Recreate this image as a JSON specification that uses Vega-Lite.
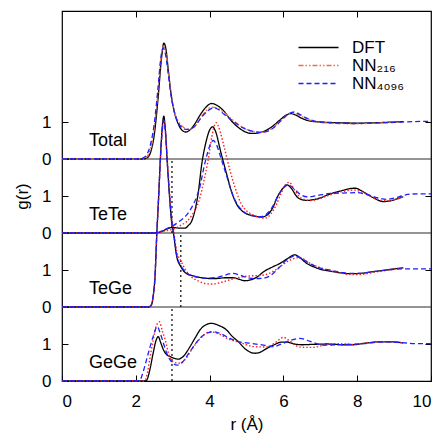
{
"$schema":"https://vega.github.io/schema/vega-lite/v6.json",
"width":369,"height":370,
"autosize":{"type":"none"},
"padding":{"left":62,"top":11,"right":14,"bottom":55},
"config":{"view":{"stroke":"#000","strokeWidth":1.2},"font":"Liberation Sans",
"axis":{"grid":false,"domain":false,"tickColor":"#000","labelColor":"#000","titleColor":"#000","labelFontSize":17,"titleFontSize":17,"titleFontWeight":"normal","labelFont":"Liberation Sans","titleFont":"Liberation Sans","tickSize":-6,"tickWidth":1},
"legend":{"labelFontSize":17,"labelFont":"Liberation Sans","labelColor":"#000"}},
"datasets":{"c":[
{"p":"Total","s":"DFT","r":0,"y":6},{"p":"Total","s":"DFT","r":2.2,"y":6},{"p":"Total","s":"DFT","r":2.3,"y":6.03},{"p":"Total","s":"DFT","r":2.4,"y":6.18},{"p":"Total","s":"DFT","r":2.5,"y":6.65},{"p":"Total","s":"DFT","r":2.6,"y":7.6},{"p":"Total","s":"DFT","r":2.7,"y":8.75},{"p":"Total","s":"DFT","r":2.76,"y":9.13},{"p":"Total","s":"DFT","r":2.82,"y":8.95},{"p":"Total","s":"DFT","r":2.88,"y":8.41},{"p":"Total","s":"DFT","r":2.95,"y":7.8},{"p":"Total","s":"DFT","r":3.05,"y":7.25},{"p":"Total","s":"DFT","r":3.15,"y":6.95},{"p":"Total","s":"DFT","r":3.25,"y":6.78},{"p":"Total","s":"DFT","r":3.35,"y":6.73},{"p":"Total","s":"DFT","r":3.45,"y":6.77},{"p":"Total","s":"DFT","r":3.6,"y":6.95},{"p":"Total","s":"DFT","r":3.75,"y":7.2},{"p":"Total","s":"DFT","r":3.9,"y":7.4},{"p":"Total","s":"DFT","r":4.05,"y":7.5},{"p":"Total","s":"DFT","r":4.2,"y":7.45},{"p":"Total","s":"DFT","r":4.4,"y":7.28},{"p":"Total","s":"DFT","r":4.55,"y":7.08},{"p":"Total","s":"DFT","r":4.7,"y":6.92},{"p":"Total","s":"DFT","r":4.85,"y":6.8},{"p":"Total","s":"DFT","r":5.0,"y":6.72},{"p":"Total","s":"DFT","r":5.15,"y":6.69},{"p":"Total","s":"DFT","r":5.3,"y":6.7},{"p":"Total","s":"DFT","r":5.5,"y":6.76},{"p":"Total","s":"DFT","r":5.7,"y":6.88},{"p":"Total","s":"DFT","r":5.9,"y":7.05},{"p":"Total","s":"DFT","r":6.1,"y":7.2},{"p":"Total","s":"DFT","r":6.2,"y":7.23},{"p":"Total","s":"DFT","r":6.35,"y":7.18},{"p":"Total","s":"DFT","r":6.5,"y":7.1},{"p":"Total","s":"DFT","r":6.75,"y":7.02},{"p":"Total","s":"DFT","r":7.0,"y":7.0},{"p":"Total","s":"DFT","r":7.5,"y":6.98},{"p":"Total","s":"DFT","r":8.0,"y":6.97},{"p":"Total","s":"DFT","r":8.5,"y":6.98},{"p":"Total","s":"DFT","r":9.0,"y":7.0},{"p":"Total","s":"DFT","r":9.25,"y":7.01},
{"p":"TeTe","s":"DFT","r":0,"y":4},{"p":"TeTe","s":"DFT","r":2.5,"y":4},{"p":"TeTe","s":"DFT","r":2.6,"y":4.01},{"p":"TeTe","s":"DFT","r":2.7,"y":4.04},{"p":"TeTe","s":"DFT","r":2.8,"y":4.09},{"p":"TeTe","s":"DFT","r":2.9,"y":4.13},{"p":"TeTe","s":"DFT","r":3.0,"y":4.15},{"p":"TeTe","s":"DFT","r":3.1,"y":4.14},{"p":"TeTe","s":"DFT","r":3.2,"y":4.13},{"p":"TeTe","s":"DFT","r":3.33,"y":4.13},{"p":"TeTe","s":"DFT","r":3.42,"y":4.2},{"p":"TeTe","s":"DFT","r":3.51,"y":4.31},{"p":"TeTe","s":"DFT","r":3.6,"y":4.6},{"p":"TeTe","s":"DFT","r":3.69,"y":5.07},{"p":"TeTe","s":"DFT","r":3.79,"y":5.88},{"p":"TeTe","s":"DFT","r":3.9,"y":6.45},{"p":"TeTe","s":"DFT","r":4.0,"y":6.78},{"p":"TeTe","s":"DFT","r":4.08,"y":6.87},{"p":"TeTe","s":"DFT","r":4.16,"y":6.75},{"p":"TeTe","s":"DFT","r":4.3,"y":6.2},{"p":"TeTe","s":"DFT","r":4.46,"y":5.6},{"p":"TeTe","s":"DFT","r":4.6,"y":5.1},{"p":"TeTe","s":"DFT","r":4.75,"y":4.75},{"p":"TeTe","s":"DFT","r":4.9,"y":4.58},{"p":"TeTe","s":"DFT","r":5.05,"y":4.5},{"p":"TeTe","s":"DFT","r":5.2,"y":4.46},{"p":"TeTe","s":"DFT","r":5.4,"y":4.43},{"p":"TeTe","s":"DFT","r":5.55,"y":4.48},{"p":"TeTe","s":"DFT","r":5.7,"y":4.66},{"p":"TeTe","s":"DFT","r":5.85,"y":5.0},{"p":"TeTe","s":"DFT","r":5.98,"y":5.2},{"p":"TeTe","s":"DFT","r":6.1,"y":5.3},{"p":"TeTe","s":"DFT","r":6.22,"y":5.2},{"p":"TeTe","s":"DFT","r":6.35,"y":5.0},{"p":"TeTe","s":"DFT","r":6.5,"y":4.9},{"p":"TeTe","s":"DFT","r":6.65,"y":4.88},{"p":"TeTe","s":"DFT","r":6.8,"y":4.9},{"p":"TeTe","s":"DFT","r":7.0,"y":4.95},{"p":"TeTe","s":"DFT","r":7.2,"y":5.03},{"p":"TeTe","s":"DFT","r":7.4,"y":5.1},{"p":"TeTe","s":"DFT","r":7.6,"y":5.15},{"p":"TeTe","s":"DFT","r":7.8,"y":5.2},{"p":"TeTe","s":"DFT","r":7.95,"y":5.21},{"p":"TeTe","s":"DFT","r":8.1,"y":5.15},{"p":"TeTe","s":"DFT","r":8.3,"y":5.03},{"p":"TeTe","s":"DFT","r":8.5,"y":4.92},{"p":"TeTe","s":"DFT","r":8.7,"y":4.85},{"p":"TeTe","s":"DFT","r":8.9,"y":4.87},{"p":"TeTe","s":"DFT","r":9.1,"y":4.93},{"p":"TeTe","s":"DFT","r":9.25,"y":4.98},
{"p":"TeGe","s":"DFT","r":0,"y":2},{"p":"TeGe","s":"DFT","r":2.35,"y":2},{"p":"TeGe","s":"DFT","r":2.42,"y":2.05},{"p":"TeGe","s":"DFT","r":2.47,"y":2.28},{"p":"TeGe","s":"DFT","r":2.52,"y":2.8},{"p":"TeGe","s":"DFT","r":2.57,"y":4.0},{"p":"TeGe","s":"DFT","r":2.62,"y":5.0},{"p":"TeGe","s":"DFT","r":2.67,"y":6.1},{"p":"TeGe","s":"DFT","r":2.72,"y":6.9},{"p":"TeGe","s":"DFT","r":2.76,"y":7.16},{"p":"TeGe","s":"DFT","r":2.8,"y":6.8},{"p":"TeGe","s":"DFT","r":2.86,"y":5.8},{"p":"TeGe","s":"DFT","r":2.92,"y":4.9},{"p":"TeGe","s":"DFT","r":2.97,"y":4.3},{"p":"TeGe","s":"DFT","r":3.02,"y":4.0},{"p":"TeGe","s":"DFT","r":3.11,"y":3.36},{"p":"TeGe","s":"DFT","r":3.22,"y":3.09},{"p":"TeGe","s":"DFT","r":3.35,"y":2.92},{"p":"TeGe","s":"DFT","r":3.56,"y":2.84},{"p":"TeGe","s":"DFT","r":3.8,"y":2.79},{"p":"TeGe","s":"DFT","r":4.0,"y":2.77},{"p":"TeGe","s":"DFT","r":4.2,"y":2.77},{"p":"TeGe","s":"DFT","r":4.4,"y":2.79},{"p":"TeGe","s":"DFT","r":4.64,"y":2.79},{"p":"TeGe","s":"DFT","r":4.8,"y":2.75},{"p":"TeGe","s":"DFT","r":4.95,"y":2.71},{"p":"TeGe","s":"DFT","r":5.1,"y":2.73},{"p":"TeGe","s":"DFT","r":5.3,"y":2.82},{"p":"TeGe","s":"DFT","r":5.46,"y":2.95},{"p":"TeGe","s":"DFT","r":5.7,"y":3.08},{"p":"TeGe","s":"DFT","r":5.91,"y":3.18},{"p":"TeGe","s":"DFT","r":6.1,"y":3.3},{"p":"TeGe","s":"DFT","r":6.31,"y":3.41},{"p":"TeGe","s":"DFT","r":6.45,"y":3.33},{"p":"TeGe","s":"DFT","r":6.63,"y":3.18},{"p":"TeGe","s":"DFT","r":6.81,"y":3.09},{"p":"TeGe","s":"DFT","r":7.0,"y":3.02},{"p":"TeGe","s":"DFT","r":7.26,"y":2.97},{"p":"TeGe","s":"DFT","r":7.5,"y":2.93},{"p":"TeGe","s":"DFT","r":7.8,"y":2.9},{"p":"TeGe","s":"DFT","r":8.1,"y":2.91},{"p":"TeGe","s":"DFT","r":8.4,"y":2.95},{"p":"TeGe","s":"DFT","r":8.71,"y":2.99},{"p":"TeGe","s":"DFT","r":9.0,"y":3.03},{"p":"TeGe","s":"DFT","r":9.25,"y":3.06},
{"p":"GeGe","s":"DFT","r":0,"y":0},{"p":"GeGe","s":"DFT","r":2.25,"y":0},{"p":"GeGe","s":"DFT","r":2.3,"y":0.03},{"p":"GeGe","s":"DFT","r":2.38,"y":0.3},{"p":"GeGe","s":"DFT","r":2.47,"y":0.75},{"p":"GeGe","s":"DFT","r":2.55,"y":1.1},{"p":"GeGe","s":"DFT","r":2.61,"y":1.2},{"p":"GeGe","s":"DFT","r":2.67,"y":1.05},{"p":"GeGe","s":"DFT","r":2.75,"y":0.84},{"p":"GeGe","s":"DFT","r":2.85,"y":0.7},{"p":"GeGe","s":"DFT","r":2.93,"y":0.66},{"p":"GeGe","s":"DFT","r":3.05,"y":0.61},{"p":"GeGe","s":"DFT","r":3.15,"y":0.59},{"p":"GeGe","s":"DFT","r":3.3,"y":0.68},{"p":"GeGe","s":"DFT","r":3.47,"y":0.93},{"p":"GeGe","s":"DFT","r":3.6,"y":1.15},{"p":"GeGe","s":"DFT","r":3.74,"y":1.38},{"p":"GeGe","s":"DFT","r":3.9,"y":1.52},{"p":"GeGe","s":"DFT","r":4.06,"y":1.56},{"p":"GeGe","s":"DFT","r":4.25,"y":1.5},{"p":"GeGe","s":"DFT","r":4.46,"y":1.38},{"p":"GeGe","s":"DFT","r":4.6,"y":1.22},{"p":"GeGe","s":"DFT","r":4.78,"y":1.06},{"p":"GeGe","s":"DFT","r":4.95,"y":0.88},{"p":"GeGe","s":"DFT","r":5.1,"y":0.78},{"p":"GeGe","s":"DFT","r":5.23,"y":0.75},{"p":"GeGe","s":"DFT","r":5.35,"y":0.77},{"p":"GeGe","s":"DFT","r":5.55,"y":0.88},{"p":"GeGe","s":"DFT","r":5.75,"y":0.98},{"p":"GeGe","s":"DFT","r":5.95,"y":1.05},{"p":"GeGe","s":"DFT","r":6.1,"y":1.05},{"p":"GeGe","s":"DFT","r":6.3,"y":1.0},{"p":"GeGe","s":"DFT","r":6.5,"y":0.98},{"p":"GeGe","s":"DFT","r":6.8,"y":0.99},{"p":"GeGe","s":"DFT","r":7.2,"y":1.0},{"p":"GeGe","s":"DFT","r":7.6,"y":0.98},{"p":"GeGe","s":"DFT","r":7.9,"y":0.98},{"p":"GeGe","s":"DFT","r":8.2,"y":1.02},{"p":"GeGe","s":"DFT","r":8.6,"y":1.06},{"p":"GeGe","s":"DFT","r":8.9,"y":1.06},{"p":"GeGe","s":"DFT","r":9.25,"y":1.03},
{"p":"Total","s":"NN216","r":0,"y":6},{"p":"Total","s":"NN216","r":2.2,"y":6},{"p":"Total","s":"NN216","r":2.3,"y":6.06},{"p":"Total","s":"NN216","r":2.4,"y":6.3},{"p":"Total","s":"NN216","r":2.5,"y":6.85},{"p":"Total","s":"NN216","r":2.6,"y":7.8},{"p":"Total","s":"NN216","r":2.68,"y":8.7},{"p":"Total","s":"NN216","r":2.75,"y":9.05},{"p":"Total","s":"NN216","r":2.82,"y":8.85},{"p":"Total","s":"NN216","r":2.9,"y":8.2},{"p":"Total","s":"NN216","r":2.98,"y":7.6},{"p":"Total","s":"NN216","r":3.07,"y":7.2},{"p":"Total","s":"NN216","r":3.17,"y":7.0},{"p":"Total","s":"NN216","r":3.3,"y":6.85},{"p":"Total","s":"NN216","r":3.45,"y":6.8},{"p":"Total","s":"NN216","r":3.6,"y":6.88},{"p":"Total","s":"NN216","r":3.75,"y":7.1},{"p":"Total","s":"NN216","r":3.9,"y":7.3},{"p":"Total","s":"NN216","r":4.05,"y":7.4},{"p":"Total","s":"NN216","r":4.2,"y":7.38},{"p":"Total","s":"NN216","r":4.4,"y":7.25},{"p":"Total","s":"NN216","r":4.6,"y":7.08},{"p":"Total","s":"NN216","r":4.8,"y":6.92},{"p":"Total","s":"NN216","r":5.0,"y":6.8},{"p":"Total","s":"NN216","r":5.2,"y":6.74},{"p":"Total","s":"NN216","r":5.4,"y":6.72},{"p":"Total","s":"NN216","r":5.6,"y":6.77},{"p":"Total","s":"NN216","r":5.8,"y":6.92},{"p":"Total","s":"NN216","r":6.0,"y":7.1},{"p":"Total","s":"NN216","r":6.2,"y":7.24},{"p":"Total","s":"NN216","r":6.35,"y":7.22},{"p":"Total","s":"NN216","r":6.5,"y":7.15},{"p":"Total","s":"NN216","r":6.75,"y":7.04},{"p":"Total","s":"NN216","r":7.0,"y":6.99},{"p":"Total","s":"NN216","r":7.5,"y":6.96},{"p":"Total","s":"NN216","r":8.0,"y":6.95},{"p":"Total","s":"NN216","r":8.5,"y":6.97},{"p":"Total","s":"NN216","r":9.0,"y":6.99},{"p":"Total","s":"NN216","r":9.25,"y":7.0},
{"p":"TeTe","s":"NN216","r":0,"y":4},{"p":"TeTe","s":"NN216","r":2.55,"y":4},{"p":"TeTe","s":"NN216","r":2.65,"y":4.02},{"p":"TeTe","s":"NN216","r":2.8,"y":4.06},{"p":"TeTe","s":"NN216","r":3.0,"y":4.1},{"p":"TeTe","s":"NN216","r":3.2,"y":4.2},{"p":"TeTe","s":"NN216","r":3.38,"y":4.31},{"p":"TeTe","s":"NN216","r":3.52,"y":4.48},{"p":"TeTe","s":"NN216","r":3.65,"y":4.71},{"p":"TeTe","s":"NN216","r":3.75,"y":5.0},{"p":"TeTe","s":"NN216","r":3.83,"y":5.34},{"p":"TeTe","s":"NN216","r":3.96,"y":5.97},{"p":"TeTe","s":"NN216","r":4.06,"y":6.6},{"p":"TeTe","s":"NN216","r":4.13,"y":6.9},{"p":"TeTe","s":"NN216","r":4.18,"y":6.98},{"p":"TeTe","s":"NN216","r":4.25,"y":6.85},{"p":"TeTe","s":"NN216","r":4.4,"y":6.3},{"p":"TeTe","s":"NN216","r":4.55,"y":5.7},{"p":"TeTe","s":"NN216","r":4.7,"y":5.2},{"p":"TeTe","s":"NN216","r":4.85,"y":4.8},{"p":"TeTe","s":"NN216","r":5.0,"y":4.6},{"p":"TeTe","s":"NN216","r":5.2,"y":4.48},{"p":"TeTe","s":"NN216","r":5.35,"y":4.42},{"p":"TeTe","s":"NN216","r":5.5,"y":4.4},{"p":"TeTe","s":"NN216","r":5.65,"y":4.5},{"p":"TeTe","s":"NN216","r":5.8,"y":4.75},{"p":"TeTe","s":"NN216","r":5.95,"y":5.1},{"p":"TeTe","s":"NN216","r":6.08,"y":5.33},{"p":"TeTe","s":"NN216","r":6.16,"y":5.37},{"p":"TeTe","s":"NN216","r":6.28,"y":5.2},{"p":"TeTe","s":"NN216","r":6.42,"y":5.0},{"p":"TeTe","s":"NN216","r":6.58,"y":4.9},{"p":"TeTe","s":"NN216","r":6.72,"y":4.88},{"p":"TeTe","s":"NN216","r":6.9,"y":4.9},{"p":"TeTe","s":"NN216","r":7.1,"y":4.97},{"p":"TeTe","s":"NN216","r":7.35,"y":5.06},{"p":"TeTe","s":"NN216","r":7.6,"y":5.12},{"p":"TeTe","s":"NN216","r":7.9,"y":5.16},{"p":"TeTe","s":"NN216","r":8.1,"y":5.12},{"p":"TeTe","s":"NN216","r":8.35,"y":5.0},{"p":"TeTe","s":"NN216","r":8.55,"y":4.91},{"p":"TeTe","s":"NN216","r":8.8,"y":4.87},{"p":"TeTe","s":"NN216","r":9.0,"y":4.9},{"p":"TeTe","s":"NN216","r":9.25,"y":4.98},
{"p":"TeGe","s":"NN216","r":0,"y":2},{"p":"TeGe","s":"NN216","r":2.35,"y":2},{"p":"TeGe","s":"NN216","r":2.42,"y":2.05},{"p":"TeGe","s":"NN216","r":2.47,"y":2.28},{"p":"TeGe","s":"NN216","r":2.52,"y":2.8},{"p":"TeGe","s":"NN216","r":2.57,"y":3.95},{"p":"TeGe","s":"NN216","r":2.62,"y":4.95},{"p":"TeGe","s":"NN216","r":2.67,"y":6.0},{"p":"TeGe","s":"NN216","r":2.72,"y":6.8},{"p":"TeGe","s":"NN216","r":2.76,"y":7.05},{"p":"TeGe","s":"NN216","r":2.8,"y":6.8},{"p":"TeGe","s":"NN216","r":2.86,"y":5.9},{"p":"TeGe","s":"NN216","r":2.92,"y":5.05},{"p":"TeGe","s":"NN216","r":2.97,"y":4.45},{"p":"TeGe","s":"NN216","r":3.02,"y":4.1},{"p":"TeGe","s":"NN216","r":3.11,"y":3.5},{"p":"TeGe","s":"NN216","r":3.22,"y":3.25},{"p":"TeGe","s":"NN216","r":3.35,"y":3.0},{"p":"TeGe","s":"NN216","r":3.5,"y":2.82},{"p":"TeGe","s":"NN216","r":3.7,"y":2.7},{"p":"TeGe","s":"NN216","r":3.9,"y":2.63},{"p":"TeGe","s":"NN216","r":4.05,"y":2.62},{"p":"TeGe","s":"NN216","r":4.25,"y":2.65},{"p":"TeGe","s":"NN216","r":4.5,"y":2.72},{"p":"TeGe","s":"NN216","r":4.8,"y":2.8},{"p":"TeGe","s":"NN216","r":5.1,"y":2.84},{"p":"TeGe","s":"NN216","r":5.3,"y":2.85},{"p":"TeGe","s":"NN216","r":5.5,"y":2.87},{"p":"TeGe","s":"NN216","r":5.7,"y":2.95},{"p":"TeGe","s":"NN216","r":5.91,"y":3.09},{"p":"TeGe","s":"NN216","r":6.15,"y":3.25},{"p":"TeGe","s":"NN216","r":6.45,"y":3.34},{"p":"TeGe","s":"NN216","r":6.65,"y":3.22},{"p":"TeGe","s":"NN216","r":6.9,"y":3.1},{"p":"TeGe","s":"NN216","r":7.2,"y":3.0},{"p":"TeGe","s":"NN216","r":7.5,"y":2.93},{"p":"TeGe","s":"NN216","r":7.8,"y":2.88},{"p":"TeGe","s":"NN216","r":8.1,"y":2.88},{"p":"TeGe","s":"NN216","r":8.4,"y":2.93},{"p":"TeGe","s":"NN216","r":8.8,"y":2.99},{"p":"TeGe","s":"NN216","r":9.1,"y":3.04},{"p":"TeGe","s":"NN216","r":9.25,"y":3.06},
{"p":"GeGe","s":"NN216","r":0,"y":0},{"p":"GeGe","s":"NN216","r":2.22,"y":0},{"p":"GeGe","s":"NN216","r":2.3,"y":0.15},{"p":"GeGe","s":"NN216","r":2.38,"y":0.6},{"p":"GeGe","s":"NN216","r":2.47,"y":1.1},{"p":"GeGe","s":"NN216","r":2.56,"y":1.5},{"p":"GeGe","s":"NN216","r":2.64,"y":1.6},{"p":"GeGe","s":"NN216","r":2.72,"y":1.35},{"p":"GeGe","s":"NN216","r":2.8,"y":1.1},{"p":"GeGe","s":"NN216","r":2.93,"y":0.61},{"p":"GeGe","s":"NN216","r":3.05,"y":0.5},{"p":"GeGe","s":"NN216","r":3.2,"y":0.48},{"p":"GeGe","s":"NN216","r":3.35,"y":0.6},{"p":"GeGe","s":"NN216","r":3.51,"y":0.84},{"p":"GeGe","s":"NN216","r":3.7,"y":1.1},{"p":"GeGe","s":"NN216","r":3.85,"y":1.25},{"p":"GeGe","s":"NN216","r":4.01,"y":1.33},{"p":"GeGe","s":"NN216","r":4.25,"y":1.27},{"p":"GeGe","s":"NN216","r":4.55,"y":1.12},{"p":"GeGe","s":"NN216","r":4.8,"y":1.05},{"p":"GeGe","s":"NN216","r":5.0,"y":0.98},{"p":"GeGe","s":"NN216","r":5.19,"y":0.93},{"p":"GeGe","s":"NN216","r":5.55,"y":0.92},{"p":"GeGe","s":"NN216","r":5.8,"y":1.05},{"p":"GeGe","s":"NN216","r":6.0,"y":1.18},{"p":"GeGe","s":"NN216","r":6.15,"y":1.1},{"p":"GeGe","s":"NN216","r":6.35,"y":0.95},{"p":"GeGe","s":"NN216","r":6.54,"y":0.91},{"p":"GeGe","s":"NN216","r":6.81,"y":0.91},{"p":"GeGe","s":"NN216","r":7.1,"y":0.97},{"p":"GeGe","s":"NN216","r":7.44,"y":1.01},{"p":"GeGe","s":"NN216","r":7.9,"y":0.99},{"p":"GeGe","s":"NN216","r":8.3,"y":1.03},{"p":"GeGe","s":"NN216","r":8.7,"y":1.06},{"p":"GeGe","s":"NN216","r":9.0,"y":1.05},{"p":"GeGe","s":"NN216","r":9.25,"y":1.03},
{"p":"Total","s":"NN4096","r":0,"y":6},{"p":"Total","s":"NN4096","r":2.1,"y":6},{"p":"Total","s":"NN4096","r":2.2,"y":6.03},{"p":"Total","s":"NN4096","r":2.3,"y":6.12},{"p":"Total","s":"NN4096","r":2.4,"y":6.4},{"p":"Total","s":"NN4096","r":2.5,"y":6.95},{"p":"Total","s":"NN4096","r":2.6,"y":7.9},{"p":"Total","s":"NN4096","r":2.68,"y":8.75},{"p":"Total","s":"NN4096","r":2.74,"y":9.0},{"p":"Total","s":"NN4096","r":2.8,"y":8.85},{"p":"Total","s":"NN4096","r":2.88,"y":8.3},{"p":"Total","s":"NN4096","r":2.95,"y":7.75},{"p":"Total","s":"NN4096","r":3.05,"y":7.25},{"p":"Total","s":"NN4096","r":3.15,"y":6.98},{"p":"Total","s":"NN4096","r":3.25,"y":6.85},{"p":"Total","s":"NN4096","r":3.35,"y":6.8},{"p":"Total","s":"NN4096","r":3.5,"y":6.82},{"p":"Total","s":"NN4096","r":3.65,"y":6.95},{"p":"Total","s":"NN4096","r":3.8,"y":7.15},{"p":"Total","s":"NN4096","r":3.95,"y":7.3},{"p":"Total","s":"NN4096","r":4.1,"y":7.38},{"p":"Total","s":"NN4096","r":4.25,"y":7.33},{"p":"Total","s":"NN4096","r":4.4,"y":7.2},{"p":"Total","s":"NN4096","r":4.6,"y":7.05},{"p":"Total","s":"NN4096","r":4.8,"y":6.9},{"p":"Total","s":"NN4096","r":5.0,"y":6.8},{"p":"Total","s":"NN4096","r":5.2,"y":6.74},{"p":"Total","s":"NN4096","r":5.4,"y":6.72},{"p":"Total","s":"NN4096","r":5.6,"y":6.76},{"p":"Total","s":"NN4096","r":5.8,"y":6.9},{"p":"Total","s":"NN4096","r":6.0,"y":7.1},{"p":"Total","s":"NN4096","r":6.2,"y":7.25},{"p":"Total","s":"NN4096","r":6.3,"y":7.27},{"p":"Total","s":"NN4096","r":6.45,"y":7.2},{"p":"Total","s":"NN4096","r":6.6,"y":7.12},{"p":"Total","s":"NN4096","r":6.8,"y":7.04},{"p":"Total","s":"NN4096","r":7.0,"y":7.0},{"p":"Total","s":"NN4096","r":7.5,"y":6.97},{"p":"Total","s":"NN4096","r":8.0,"y":6.96},{"p":"Total","s":"NN4096","r":8.5,"y":6.97},{"p":"Total","s":"NN4096","r":9.0,"y":6.99},{"p":"Total","s":"NN4096","r":9.5,"y":7.01},{"p":"Total","s":"NN4096","r":10,"y":7.02},
{"p":"TeTe","s":"NN4096","r":0,"y":4},{"p":"TeTe","s":"NN4096","r":2.55,"y":4},{"p":"TeTe","s":"NN4096","r":2.65,"y":4.03},{"p":"TeTe","s":"NN4096","r":2.8,"y":4.1},{"p":"TeTe","s":"NN4096","r":3.0,"y":4.19},{"p":"TeTe","s":"NN4096","r":3.2,"y":4.33},{"p":"TeTe","s":"NN4096","r":3.38,"y":4.49},{"p":"TeTe","s":"NN4096","r":3.52,"y":4.7},{"p":"TeTe","s":"NN4096","r":3.65,"y":4.98},{"p":"TeTe","s":"NN4096","r":3.75,"y":5.3},{"p":"TeTe","s":"NN4096","r":3.83,"y":5.7},{"p":"TeTe","s":"NN4096","r":3.94,"y":6.15},{"p":"TeTe","s":"NN4096","r":4.03,"y":6.42},{"p":"TeTe","s":"NN4096","r":4.1,"y":6.5},{"p":"TeTe","s":"NN4096","r":4.18,"y":6.4},{"p":"TeTe","s":"NN4096","r":4.3,"y":6.05},{"p":"TeTe","s":"NN4096","r":4.46,"y":5.55},{"p":"TeTe","s":"NN4096","r":4.6,"y":5.1},{"p":"TeTe","s":"NN4096","r":4.75,"y":4.78},{"p":"TeTe","s":"NN4096","r":4.9,"y":4.6},{"p":"TeTe","s":"NN4096","r":5.05,"y":4.5},{"p":"TeTe","s":"NN4096","r":5.2,"y":4.46},{"p":"TeTe","s":"NN4096","r":5.37,"y":4.44},{"p":"TeTe","s":"NN4096","r":5.55,"y":4.52},{"p":"TeTe","s":"NN4096","r":5.7,"y":4.7},{"p":"TeTe","s":"NN4096","r":5.85,"y":5.0},{"p":"TeTe","s":"NN4096","r":6.0,"y":5.22},{"p":"TeTe","s":"NN4096","r":6.14,"y":5.3},{"p":"TeTe","s":"NN4096","r":6.3,"y":5.18},{"p":"TeTe","s":"NN4096","r":6.45,"y":5.05},{"p":"TeTe","s":"NN4096","r":6.63,"y":4.98},{"p":"TeTe","s":"NN4096","r":6.8,"y":4.99},{"p":"TeTe","s":"NN4096","r":7.0,"y":5.03},{"p":"TeTe","s":"NN4096","r":7.26,"y":5.07},{"p":"TeTe","s":"NN4096","r":7.6,"y":5.08},{"p":"TeTe","s":"NN4096","r":7.99,"y":5.09},{"p":"TeTe","s":"NN4096","r":8.3,"y":5.03},{"p":"TeTe","s":"NN4096","r":8.6,"y":4.94},{"p":"TeTe","s":"NN4096","r":8.8,"y":4.91},{"p":"TeTe","s":"NN4096","r":9.0,"y":4.94},{"p":"TeTe","s":"NN4096","r":9.2,"y":5.0},{"p":"TeTe","s":"NN4096","r":9.43,"y":5.05},{"p":"TeTe","s":"NN4096","r":9.7,"y":5.06},{"p":"TeTe","s":"NN4096","r":10,"y":5.06},
{"p":"TeGe","s":"NN4096","r":0,"y":2},{"p":"TeGe","s":"NN4096","r":2.35,"y":2},{"p":"TeGe","s":"NN4096","r":2.42,"y":2.06},{"p":"TeGe","s":"NN4096","r":2.47,"y":2.3},{"p":"TeGe","s":"NN4096","r":2.52,"y":2.85},{"p":"TeGe","s":"NN4096","r":2.57,"y":4.0},{"p":"TeGe","s":"NN4096","r":2.62,"y":5.0},{"p":"TeGe","s":"NN4096","r":2.67,"y":6.05},{"p":"TeGe","s":"NN4096","r":2.72,"y":6.8},{"p":"TeGe","s":"NN4096","r":2.76,"y":7.05},{"p":"TeGe","s":"NN4096","r":2.8,"y":6.75},{"p":"TeGe","s":"NN4096","r":2.86,"y":5.8},{"p":"TeGe","s":"NN4096","r":2.92,"y":4.95},{"p":"TeGe","s":"NN4096","r":2.97,"y":4.35},{"p":"TeGe","s":"NN4096","r":3.02,"y":4.05},{"p":"TeGe","s":"NN4096","r":3.11,"y":3.4},{"p":"TeGe","s":"NN4096","r":3.22,"y":3.12},{"p":"TeGe","s":"NN4096","r":3.35,"y":2.95},{"p":"TeGe","s":"NN4096","r":3.56,"y":2.83},{"p":"TeGe","s":"NN4096","r":3.9,"y":2.78},{"p":"TeGe","s":"NN4096","r":4.2,"y":2.8},{"p":"TeGe","s":"NN4096","r":4.45,"y":2.87},{"p":"TeGe","s":"NN4096","r":4.6,"y":2.91},{"p":"TeGe","s":"NN4096","r":4.8,"y":2.87},{"p":"TeGe","s":"NN4096","r":5.0,"y":2.8},{"p":"TeGe","s":"NN4096","r":5.2,"y":2.77},{"p":"TeGe","s":"NN4096","r":5.46,"y":2.78},{"p":"TeGe","s":"NN4096","r":5.65,"y":2.85},{"p":"TeGe","s":"NN4096","r":5.82,"y":3.0},{"p":"TeGe","s":"NN4096","r":6.09,"y":3.27},{"p":"TeGe","s":"NN4096","r":6.31,"y":3.38},{"p":"TeGe","s":"NN4096","r":6.5,"y":3.3},{"p":"TeGe","s":"NN4096","r":6.8,"y":3.13},{"p":"TeGe","s":"NN4096","r":7.0,"y":3.05},{"p":"TeGe","s":"NN4096","r":7.3,"y":2.99},{"p":"TeGe","s":"NN4096","r":7.6,"y":2.93},{"p":"TeGe","s":"NN4096","r":7.8,"y":2.91},{"p":"TeGe","s":"NN4096","r":8.1,"y":2.91},{"p":"TeGe","s":"NN4096","r":8.4,"y":2.95},{"p":"TeGe","s":"NN4096","r":8.8,"y":3.0},{"p":"TeGe","s":"NN4096","r":9.2,"y":3.03},{"p":"TeGe","s":"NN4096","r":9.6,"y":3.03},{"p":"TeGe","s":"NN4096","r":10,"y":3.03},
{"p":"GeGe","s":"NN4096","r":0,"y":0},{"p":"GeGe","s":"NN4096","r":2.05,"y":0},{"p":"GeGe","s":"NN4096","r":2.11,"y":0.02},{"p":"GeGe","s":"NN4096","r":2.2,"y":0.25},{"p":"GeGe","s":"NN4096","r":2.29,"y":0.57},{"p":"GeGe","s":"NN4096","r":2.38,"y":0.9},{"p":"GeGe","s":"NN4096","r":2.47,"y":1.2},{"p":"GeGe","s":"NN4096","r":2.58,"y":1.47},{"p":"GeGe","s":"NN4096","r":2.66,"y":1.3},{"p":"GeGe","s":"NN4096","r":2.75,"y":1.02},{"p":"GeGe","s":"NN4096","r":2.85,"y":0.72},{"p":"GeGe","s":"NN4096","r":2.93,"y":0.57},{"p":"GeGe","s":"NN4096","r":3.02,"y":0.47},{"p":"GeGe","s":"NN4096","r":3.12,"y":0.43},{"p":"GeGe","s":"NN4096","r":3.25,"y":0.5},{"p":"GeGe","s":"NN4096","r":3.47,"y":0.8},{"p":"GeGe","s":"NN4096","r":3.65,"y":1.05},{"p":"GeGe","s":"NN4096","r":3.85,"y":1.25},{"p":"GeGe","s":"NN4096","r":4.1,"y":1.33},{"p":"GeGe","s":"NN4096","r":4.3,"y":1.28},{"p":"GeGe","s":"NN4096","r":4.55,"y":1.15},{"p":"GeGe","s":"NN4096","r":4.8,"y":1.06},{"p":"GeGe","s":"NN4096","r":5.1,"y":1.02},{"p":"GeGe","s":"NN4096","r":5.46,"y":0.97},{"p":"GeGe","s":"NN4096","r":5.73,"y":0.93},{"p":"GeGe","s":"NN4096","r":5.95,"y":1.0},{"p":"GeGe","s":"NN4096","r":6.2,"y":1.1},{"p":"GeGe","s":"NN4096","r":6.45,"y":1.15},{"p":"GeGe","s":"NN4096","r":6.7,"y":1.08},{"p":"GeGe","s":"NN4096","r":7.08,"y":0.97},{"p":"GeGe","s":"NN4096","r":7.5,"y":0.98},{"p":"GeGe","s":"NN4096","r":8.17,"y":1.01},{"p":"GeGe","s":"NN4096","r":8.71,"y":1.06},{"p":"GeGe","s":"NN4096","r":9.2,"y":1.04},{"p":"GeGe","s":"NN4096","r":9.6,"y":1.01},{"p":"GeGe","s":"NN4096","r":10,"y":1.01}
]},
"layer":[
{"data":{"values":[{"b":2},{"b":4},{"b":6}]},
 "mark":{"type":"rule","color":"#2a2a2a","strokeWidth":1.2},
 "encoding":{"y":{"field":"b","type":"quantitative","scale":{"domain":[0,10],"nice":false},"axis":null}}},
{"data":{"values":[{"x":2.98,"a":4,"b":6},{"x":3.22,"a":2,"b":4},{"x":2.98,"a":0,"b":2}]},
 "mark":{"type":"rule","color":"#000","strokeWidth":1.2,"strokeDash":[2,3]},
 "encoding":{
  "x":{"field":"x","type":"quantitative","scale":{"domain":[0,10],"nice":false},"axis":{"orient":"top","values":[2,4,6,8],"labels":false,"title":null}},
  "y":{"field":"a","type":"quantitative","scale":{"domain":[0,10],"nice":false},"axis":{"orient":"right","values":[1,3,5,7],"labels":false,"title":null}},
  "y2":{"field":"b"}}},
{"data":{"name":"c"},"transform":[{"filter":"datum.s=='DFT'"}],
 "mark":{"type":"line","strokeWidth":1.3,"interpolate":"monotone"},
 "encoding":{
  "x":{"field":"r","type":"quantitative","scale":{"domain":[0,10],"nice":false},"axis":{"orient":"bottom","values":[0,2,4,6,8,10],"title":"r (Å)","labelPadding":18,"titlePadding":7}},
  "y":{"field":"y","type":"quantitative","scale":{"domain":[0,10],"nice":false},"axis":{"orient":"left","values":[0,1,2,3,4,5,6,7],"labelExpr":"'' + (datum.value % 2)","title":"g(r)","labelPadding":17,"titlePadding":10}},
  "detail":{"field":"p"},
  "color":{"field":"s","type":"nominal","scale":{"domain":["DFT","NN216","NN4096"],"range":["#000000","#f0703c","#1f1fff"]},
   "legend":{"title":null,"orient":"none","legendX":248,"legendY":28,"symbolType":"M-4,0H4","symbolSize":100,"symbolStrokeWidth":1.3,"labelOffset":25,"rowPadding":0,"labelExpr":"datum.label=='NN216'?'NN₂₁₆':datum.label=='NN4096'?'NN₄₀₉₆':datum.label"}},
  "strokeDash":{"field":"s","type":"nominal","scale":{"domain":["DFT","NN216","NN4096"],"range":[[1,0],[5,2,1.5,2,1.5,2],[5,3]]},"legend":null}}},
{"data":{"name":"c"},"transform":[{"filter":"datum.s=='NN216' && datum.p=='Total'"}],
 "mark":{"type":"line","strokeWidth":1.3,"interpolate":"monotone"},
 "encoding":{
  "x":{"field":"r","type":"quantitative","axis":null},
  "y":{"field":"y","type":"quantitative","axis":null},
  "detail":{"field":"p"},
  "color":{"field":"s","type":"nominal","scale":{"domain":["DFT","NN216","NN4096"],"range":["#000000","#f0703c","#1f1fff"]}},
  "strokeDash":{"field":"s","type":"nominal","scale":{"domain":["DFT","NN216","NN4096"],"range":[[1,0],[5,2,1.5,2,1.5,2],[5,3]]},"legend":null}}},
{"data":{"name":"c"},"transform":[{"filter":"datum.s=='NN216' && datum.p!='Total'"}],
 "mark":{"type":"line","strokeWidth":1.4,"interpolate":"monotone","color":"#ff2020","strokeDash":[1.5,2]},
 "encoding":{
  "x":{"field":"r","type":"quantitative","axis":null},
  "y":{"field":"y","type":"quantitative","axis":null},
  "detail":{"field":"p"}}},
{"data":{"name":"c"},"transform":[{"filter":"datum.s=='NN4096'"}],
 "mark":{"type":"line","strokeWidth":1.3,"interpolate":"monotone"},
 "encoding":{
  "x":{"field":"r","type":"quantitative","axis":null},
  "y":{"field":"y","type":"quantitative","axis":null},
  "detail":{"field":"p"},
  "color":{"field":"s","type":"nominal","scale":{"domain":["DFT","NN216","NN4096"],"range":["#000000","#f0703c","#1f1fff"]}},
  "strokeDash":{"field":"s","type":"nominal","scale":{"domain":["DFT","NN216","NN4096"],"range":[[1,0],[5,2,1.5,2,1.5,2],[5,3]]},"legend":null}}},
{"data":{"values":[{"t":"Total","x":0.73,"y":6.5},{"t":"TeTe","x":0.73,"y":4.5},{"t":"TeGe","x":0.73,"y":2.5},{"t":"GeGe","x":0.73,"y":0.5}]},
 "mark":{"type":"text","align":"left","baseline":"middle","fontSize":18,"font":"Liberation Sans","color":"#000"},
 "encoding":{
  "x":{"field":"x","type":"quantitative","axis":null},
  "y":{"field":"y","type":"quantitative","axis":null},
  "text":{"field":"t"}}}
]
}
